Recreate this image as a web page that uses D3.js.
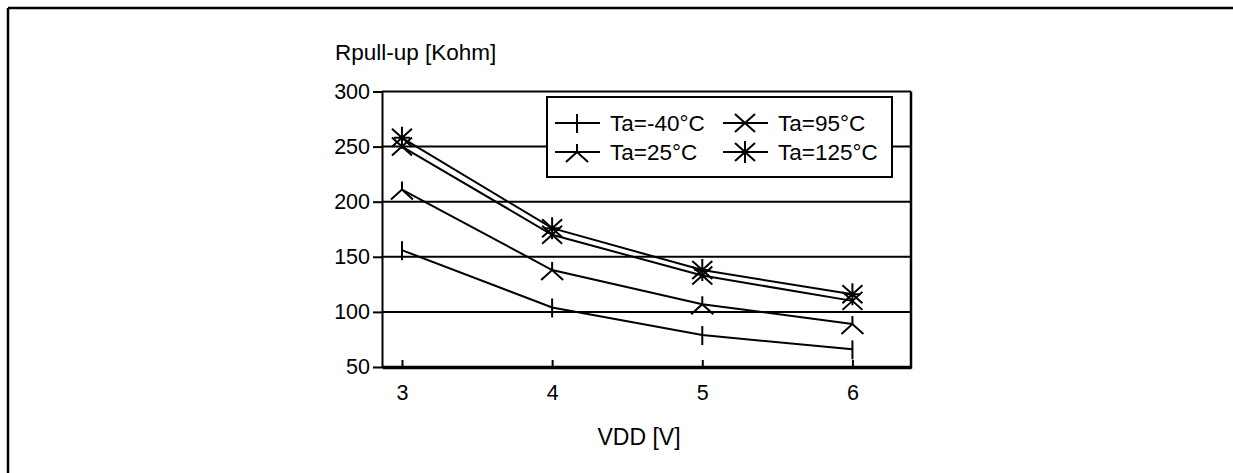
<!DOCTYPE html>
<meta charset="utf-8">
<style>
body { margin: 0; background: #fff; }
text {
	font-family: 'Liberation Sans', Arial, sans-serif;
	fill: #000;
}
.grid line { stroke: #000; stroke-width: 2px; }
.series path.line { fill: none; stroke: #000; stroke-width: 2px; }
.marker { fill: none; stroke: #000; stroke-width: 2px; }
</style>
<svg width="1233" height="473"></svg>
<script src="https://d3js.org/d3.v7.min.js"></script>
<script>
// data
var vdd = [3, 4, 5, 6];
var rMinus40 = [156, 104, 79, 66];
var r25 = [211, 138, 107, 89];
var r95 = [250, 170, 133, 110];
var r125 = [258, 176, 138, 116];
var yTicks = [50, 100, 150, 200, 250, 300];
var seriesNames = ["Ta=-40°C", "Ta=25°C", "Ta=95°C", "Ta=125°C"];
var seriesVals = [rMinus40, r25, r95, r125];
var seriesMarks = ["bar", "lambda", "cross", "star"];

var svg = d3.select("svg");

var margin = {left: 382, top: 91.5, right: 911, bottom: 367};

var x = d3.scaleLinear().domain([2.867, 6.39]).range([margin.left, margin.right]);
var y = d3.scaleLinear().domain([50, 300]).range([margin.bottom, margin.top]);

// outer frame (only top + left visible)
svg.append("line").attr("x1", 8).attr("y1", 8).attr("x2", 1233).attr("y2", 8)
	.attr("stroke", "#000").attr("stroke-width", 2.5);
svg.append("line").attr("x1", 8).attr("y1", 8).attr("x2", 8).attr("y2", 473)
	.attr("stroke", "#000").attr("stroke-width", 2.5);

// gridlines
svg.append("g").attr("class", "grid")
	.selectAll("line")
	.data(yTicks)
	.enter().append("line")
	.attr("x1", margin.left)
	.attr("x2", margin.right)
	.attr("y1", function(d) { return y(d); })
	.attr("y2", function(d) { return y(d); });

// y axis
var yAxis = svg.append("g")
	.attr("transform", "translate(" + margin.left + ",0)")
	.call(d3.axisLeft(y).tickValues(yTicks).tickSize(9).tickPadding(3).tickSizeOuter(0));
yAxis.select(".domain").attr("stroke-width", 2);
yAxis.selectAll(".tick line").attr("stroke-width", 2);
yAxis.selectAll("text").style("font-size", "21.5px").style("font-family", "'Liberation Sans', Arial, sans-serif");

// x axis
var xAxis = svg.append("g")
	.attr("transform", "translate(0," + margin.bottom + ")")
	.call(d3.axisBottom(x).tickValues(vdd).tickFormat(d3.format("d")).tickSize(-7).tickPadding(18).tickSizeOuter(0));
xAxis.select(".domain").attr("stroke-width", 3.5);
xAxis.selectAll(".tick line").attr("stroke-width", 2);
xAxis.selectAll("text").style("font-size", "21.5px").style("font-family", "'Liberation Sans', Arial, sans-serif");

// right border of plot
svg.append("line")
	.attr("x1", margin.right).attr("x2", margin.right)
	.attr("y1", margin.top).attr("y2", margin.bottom + 1.5)
	.attr("stroke", "#000").attr("stroke-width", 2.5);

// marker shapes, relative to point
function markerPath(kind) {
	var p = d3.path();
	if (kind === "bar") {
		p.moveTo(0, -9); p.lineTo(0, 10);
	} else if (kind === "lambda") {
		p.moveTo(0, -8); p.lineTo(0, 0);
		p.moveTo(-11, 10); p.lineTo(0, 0); p.lineTo(11, 10);
	} else if (kind === "cross") {
		p.moveTo(-10, -9); p.lineTo(10, 9);
		p.moveTo(-10, 9); p.lineTo(10, -9);
	} else {
		p.moveTo(-10, -9); p.lineTo(10, 9);
		p.moveTo(-10, 9); p.lineTo(10, -9);
		p.moveTo(0, -11); p.lineTo(0, 11);
		p.moveTo(-8, 0); p.lineTo(8, 0);
	}
	return p.toString();
}

var line = d3.line()
	.x(function(d) { return x(d[0]); })
	.y(function(d) { return y(d[1]); });

seriesVals.forEach(function(vals, i) {
	var pts = vdd.map(function(v, j) { return [v, vals[j]]; });
	var g = svg.append("g").attr("class", "series");
	g.append("path").attr("class", "line").attr("d", line(pts));
	g.selectAll("path.marker")
		.data(pts)
		.enter().append("path")
		.attr("class", "marker")
		.attr("d", markerPath(seriesMarks[i]))
		.attr("transform", function(d) { return "translate(" + x(d[0]) + "," + y(d[1]) + ")"; });
});

// legend
var legend = svg.append("g");
legend.append("rect")
	.attr("x", 547).attr("y", 97).attr("width", 345).attr("height", 80)
	.attr("fill", "#fff").attr("stroke", "#000").attr("stroke-width", 2);

var legPos = [[555, 123], [555, 152], [723, 123], [723, 152]];
seriesNames.forEach(function(name, i) {
	var lx = legPos[i][0], ly = legPos[i][1];
	legend.append("line")
		.attr("x1", lx).attr("x2", lx + 45)
		.attr("y1", ly).attr("y2", ly)
		.attr("stroke", "#000").attr("stroke-width", 2);
	legend.append("path")
		.attr("class", "marker")
		.attr("d", markerPath(seriesMarks[i]))
		.attr("transform", "translate(" + (lx + 22) + "," + ly + ")");
	legend.append("text")
		.attr("x", lx + 55)
		.attr("y", ly + 8)
		.style("font-size", "22.5px")
		.text(name);
});

// axis titles
svg.append("text").attr("x", 335).attr("y", 60).style("font-size", "22.5px").text("Rpull-up [Kohm]");
svg.append("text").attr("x", 639).attr("y", 445).style("font-size", "23px").attr("text-anchor", "middle").text("VDD [V]");
</script>
